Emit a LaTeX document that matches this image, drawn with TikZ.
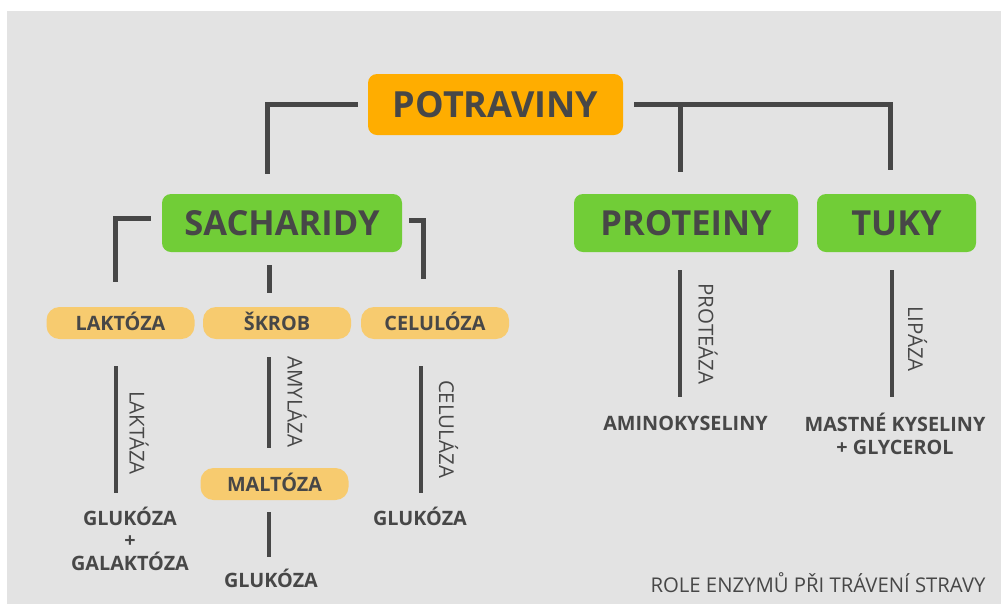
\documentclass[tikz,border=0pt]{standalone}
\usepackage{fontspec}
\setmainfont{Open Sans}
\definecolor{bg}{HTML}{E3E3E3}
\definecolor{potc}{HTML}{FFAD00}
\definecolor{grn}{HTML}{71CD37}
\definecolor{pillc}{HTML}{F7CB6F}
\definecolor{ink}{HTML}{474747}
\begin{document}
\begin{tikzpicture}[x=1pt,y=-1pt,
  conn/.style={draw=ink,line width=5pt},
  vline/.style={draw=ink,line width=4.5pt},
  topbox/.style={fill=potc,rounded corners=9pt,inner sep=0pt,text=ink,
    font=\bfseries\fontsize{36}{36}\selectfont,text height=25pt,text depth=0pt},
  grnbox/.style={fill=grn,rounded corners=9pt,inner sep=0pt,text=ink,minimum height=58pt,
    font=\bfseries\fontsize{34.5}{34.5}\selectfont,text height=24pt,text depth=0pt},
  pillbox/.style={fill=pillc,rounded corners=13pt,inner sep=0pt,text=ink,
    minimum width=148pt,minimum height=32pt,
    font=\bfseries\fontsize{19.8}{19.8}\selectfont,text height=14pt,text depth=0pt},
  prod/.style={inner sep=0pt,text=ink,align=center,
    font=\bfseries\fontsize{19.8}{22.5}\selectfont},
  enz/.style={inner sep=0pt,text=ink,rotate=-90,
    font=\fontsize{20.5}{20.5}\selectfont,text height=14pt,text depth=0pt},
  ]
\useasboundingbox (0,0) rectangle (1001,606);
\fill[bg] (7,11) rectangle (1001,604);

% main boxes
\node[topbox,minimum width=255pt,minimum height=61pt] (pot) at (495.5,104.5) {POTRAVINY};
\node[grnbox,minimum width=240pt] (sach) at (282,223) {SACHARIDY};
\node[grnbox,minimum width=224pt] (prot) at (686,223) {PROTEINY};
\node[grnbox,minimum width=159pt] (tuky) at (896.5,223) {TUKY};

% pills
\node[pillbox] (lakt) at (120.5,323) {LAKTÓZA};
\node[pillbox] (skrob) at (277,323) {ŠKROB};
\node[pillbox] (celu) at (435,323) {CELULÓZA};
\node[pillbox] (malt) at (274.5,484) {MALTÓZA};

% products
\node[prod,anchor=base] (glgal) at (130,570) {GLUKÓZA\\+\\GALAKTÓZA};
\node[prod,anchor=base] (glc) at (420,525) {GLUKÓZA};
\node[prod,anchor=base] (glm) at (271,587) {GLUKÓZA};
\node[prod,anchor=base] (amino) at (685.5,430) {AMINOKYSELINY};
\node[prod,anchor=base] (mast) at (895,454) {MASTNÉ KYSELINY\\+ GLYCEROL};

% enzymes
\node[enz] (laktaza) at (136.5,433) {LAKTÁZA};
\node[enz] (amylaza) at (294.5,402) {AMYLÁZA};
\node[enz] (celulaza) at (446,429) {CELULÁZA};
\node[enz] (proteaza) at (705.5,334) {PROTEÁZA};
\node[enz] (lipaza) at (915,339) {LIPÁZA};

% title
\node[inner sep=0pt,text=ink,font=\fontsize{20.3}{20.3}\selectfont,anchor=base] (title) at (818,592) {ROLE ENZYMŮ PŘI TRÁVENÍ STRAVY};

% free ends of connectors
\coordinate (pl) at (267,174);
\coordinate (pr) at (890,170);
\coordinate (pm) at (680,172);
\coordinate (sl) at (115,282);
\coordinate (sr) at (423,279);

% connectors
\draw[conn] ([xshift=-10pt]pot.west) -| (pl);
\draw[conn] ([xshift=11pt,yshift=0.5pt]pot.east) -| (pr);
\draw[conn] (pm |- pot.east) -- (pm);
\draw[conn] ([xshift=-11pt,yshift=5pt]sach.west) -| (sl);
\draw[conn] ([xshift=7pt,yshift=3pt]sach.east) -| (sr);
\draw[conn] (269,265) -- (269,293);

\draw[vline] (116,366) -- (116,493);
\draw[vline] (269,357) -- (269,448);
\draw[vline] (269,512) -- (269,557);
\draw[vline] (421,366) -- (421,493);
\draw[vline] (680,270) -- (680,397);
\draw[vline] (892,270) -- (892,397);
\end{tikzpicture}
\end{document}
